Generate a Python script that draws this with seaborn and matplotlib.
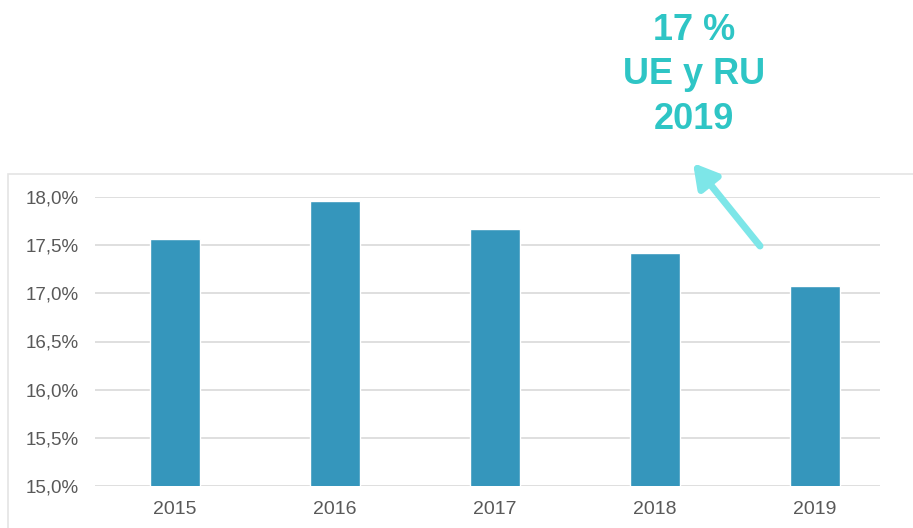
import matplotlib
matplotlib.use("Agg")
import matplotlib.pyplot as plt
import seaborn as sns
import pandas as pd
from matplotlib.patches import Rectangle, FancyArrowPatch
from matplotlib.ticker import FuncFormatter

years = ["2015", "2016", "2017", "2018", "2019"]
shares = [17.56, 17.96, 17.67, 17.42, 17.08]
y_ticks = [15.0, 15.5, 16.0, 16.5, 17.0, 17.5, 18.0]
callout_lines = ["17 %", "UE y RU", "2019"]

sns.set_theme(style="white")
plt.rcParams["font.family"] = ["Liberation Sans", "DejaVu Sans"]

df = pd.DataFrame({"year": years, "share": shares})

fig = plt.figure(figsize=(9.13, 5.28), dpi=100)
fig.patch.set_facecolor("white")

# light frame around the chart area
fig.patches.append(Rectangle((8 / 913, -0.01), 1.0, 1 - 174 / 528 + 0.01,
                             transform=fig.transFigure, fill=False,
                             edgecolor="#e4e4e4", linewidth=1.2, zorder=0))

ax = fig.add_axes([95 / 913, 1 - 486 / 528, 785 / 913, (486 - 197) / 528])
sns.barplot(data=df, x="year", y="share", color="#3596bc", saturation=1,
            width=0.31, ax=ax, zorder=3)

ax.set_xlim(-0.5, -0.5 + 785 / 160)
ax.set_ylim(15.0, 18.0)
ax.set_yticks(y_ticks)
ax.yaxis.set_major_formatter(FuncFormatter(lambda v, _: f"{v:.1f}%".replace(".", ",")))
ax.grid(axis="y", color="#d9d9d9", linewidth=1.2, zorder=0)
ax.set_axisbelow(True)
for s in ax.spines.values():
    s.set_visible(False)
ax.set_xlabel("")
ax.set_ylabel("")
ax.tick_params(axis="both", length=0, labelcolor="#595959")
ax.tick_params(axis="y", pad=12, labelsize=13.5)
ax.tick_params(axis="x", pad=11, labelsize=14)

fig.text(694 / 913, 1 - 75 / 528, "\n".join(callout_lines), ha="center",
         va="center", fontsize=26, fontweight="bold", color="#2ec5c5",
         linespacing=1.37)

arrow = FancyArrowPatch((760 / 913, 1 - 246 / 528), (693 / 913, 1 - 163 / 528),
                        transform=fig.transFigure,
                        arrowstyle="-|>,head_length=14,head_width=8",
                        color="#7de6e8", linewidth=5, mutation_scale=1,
                        shrinkA=0, shrinkB=0)
fig.patches.append(arrow)

fig.savefig("out.png", dpi=100)
